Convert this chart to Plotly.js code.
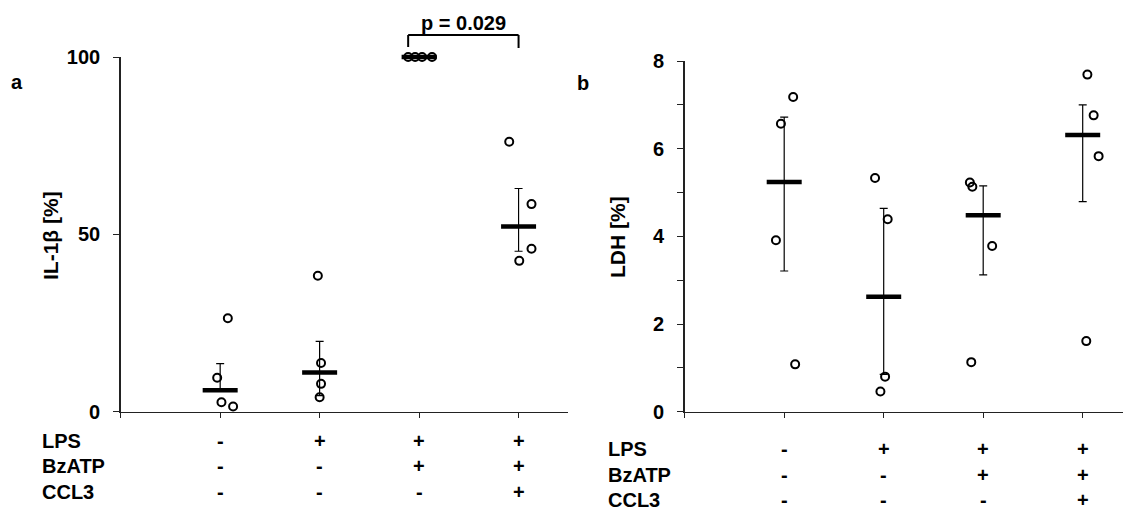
<!DOCTYPE html>
<html>
<head>
<meta charset="utf-8">
<script src="https://cdn.plot.ly/plotly-3.0.1.min.js"></script>
<style>
  html, body { margin: 0; padding: 0; background: #fff; }
  #chart { width: 1123px; height: 512px; }
</style>
</head>
<body>
<div id="chart"></div>
<script>
// Treatment groups (x positions on the category axis) and the condition table
const groups = [1, 2, 3, 4];
const rowLabels = ['LPS', 'BzATP', 'CCL3'];
const rowLPS = ['-', '+', '+', '+'];
const rowBzATP = ['-', '-', '+', '+'];
const rowCCL3 = ['-', '-', '-', '+'];

// Panel a: IL-1β release [%], four donors per group
const il1bValues = [
  [26.3, 9.5, 2.6, 1.4],
  [38.3, 13.7, 7.8, 4.0],
  [100, 100, 100, 100],
  [76.1, 58.5, 45.9, 42.5]
];
const il1bJitter = [
  [0.077, -0.03, 0.013, 0.13],
  [-0.018, 0.014, 0.014, 0.0],
  [-0.11, -0.04, 0.03, 0.13],
  [-0.094, 0.13, 0.13, 0.007]
];
const il1bMedian = [6.0, 11.0, 100, 52.2];
const il1bUpper = [13.5, 19.8, 100, 62.9];
const il1bLower = [6.4, 4.5, 100, 45.2];

// Panel b: LDH release [%]
const ldhValues = [
  [7.18, 6.57, 3.91, 1.08],
  [5.33, 4.39, 0.80, 0.46],
  [5.23, 5.13, 3.78, 1.13],
  [7.69, 6.76, 5.83, 1.61]
];
const ldhJitter = [
  [0.09, -0.033, -0.083, 0.11],
  [-0.087, 0.04, 0.014, -0.033],
  [-0.134, -0.109, 0.09, -0.12],
  [0.047, 0.11, 0.16, 0.036]
];
const ldhMedian = [5.24, 2.62, 4.48, 6.31];
const ldhUpper = [6.72, 4.64, 5.15, 7.0];
const ldhLower = [3.21, 0.85, 3.12, 4.79];

// Significance bracket between groups 3 and 4 in panel a
const pLabel = 'p = 0.029';
const bracketFrom = 2.89;
const bracketTo = 4;

const FONT = 'Liberation Sans, Arial, Helvetica, sans-serif';
const INK = '#000';

function panelTraces(values, jitter, median, upper, lower, xa, ya) {
  const px = [], py = [];
  values.forEach((vals, g) => vals.forEach((v, i) => {
    px.push(groups[g] + jitter[g][i]);
    py.push(v);
  }));
  const medianTrace = {
    type: 'scatter', mode: 'markers', xaxis: xa, yaxis: ya,
    x: groups, y: median, hoverinfo: 'skip', cliponaxis: false,
    marker: { symbol: 'line-ew', size: 25, color: INK, line: { color: INK, width: 4.5 } },
    error_y: {
      type: 'data', symmetric: false,
      array: upper.map((u, i) => u - median[i]),
      arrayminus: lower.map((l, i) => median[i] - l),
      color: INK, thickness: 1.2, width: 4
    }
  };
  const pointTrace = {
    type: 'scatter', mode: 'markers', xaxis: xa, yaxis: ya,
    x: px, y: py, hoverinfo: 'skip', cliponaxis: false,
    marker: { symbol: 'circle-open', size: 8, color: INK, line: { color: INK, width: 2 } }
  };
  return [medianTrace, pointTrace];
}

const traces = [
  ...panelTraces(il1bValues, il1bJitter, il1bMedian, il1bUpper, il1bLower, 'x', 'y'),
  ...panelTraces(ldhValues, ldhJitter, ldhMedian, ldhUpper, ldhLower, 'x2', 'y2')
];

const tickFont = { family: FONT, size: 20, color: INK, weight: 'bold' };
const baseX = {
  range: [0, 4.5], tickvals: [0, 1, 2, 3, 4], showticklabels: false,
  ticks: 'outside', ticklen: 5, tickwidth: 1, tickcolor: '#222',
  showline: true, linecolor: '#222', linewidth: 1.5,
  showgrid: false, zeroline: false, fixedrange: true
};
const baseY = {
  ticks: 'outside', ticklen: 6, tickwidth: 1, tickcolor: '#222',
  showline: true, linecolor: '#222', linewidth: 1.5,
  showgrid: false, zeroline: false, fixedrange: true,
  tickfont: tickFont, ticklabelstandoff: 9
};

const annotations = [];
function label(text, x, y, xref, yref, extra) {
  annotations.push(Object.assign({
    text: text, x: x, y: y, xref: xref, yref: yref, showarrow: false,
    xanchor: 'center', yanchor: 'middle',
    font: { family: FONT, size: 20, color: INK, weight: 'bold' }
  }, extra || {}));
}

// panel letters and axis titles
label('a', 0.015, 1 - 82 / 512, 'paper', 'paper');
label('b', 0.519, 1 - 83 / 512, 'paper', 'paper');
label('IL-1β [%]', 50 / 1123, 1 - 236 / 512, 'paper', 'paper', { textangle: -90, font: { family: FONT, size: 21, color: INK, weight: 'bold' } });
label('LDH [%]', 617 / 1123, 1 - 237 / 512, 'paper', 'paper', { textangle: -90, font: { family: FONT, size: 21, color: INK, weight: 'bold' } });

// condition tables under each panel
const rows = [rowLPS, rowBzATP, rowCCL3];
function table(xref, labelX, rowY) {
  rows.forEach((row, r) => {
    label(rowLabels[r], labelX, 1 - rowY[r] / 512, 'paper', 'paper', { xanchor: 'left' });
    row.forEach((s, g) => label(s, groups[g], 1 - rowY[r] / 512, xref, 'paper'));
  });
}
table('x', 40 / 1123, [441, 466, 492]);
table('x2', 606 / 1123, [449, 475, 500]);

// p-value above the bracket
label(pLabel, (bracketFrom + bracketTo) / 2, 1 - 23 / 512, 'x', 'paper');

const bracketLine = { color: INK, width: 2 };
const shapes = [
  { type: 'line', xref: 'x', yref: 'paper', x0: bracketFrom, x1: bracketTo, y0: 1 - 35 / 512, y1: 1 - 35 / 512, line: bracketLine },
  { type: 'line', xref: 'x', yref: 'paper', x0: bracketFrom, x1: bracketFrom, y0: 1 - 35 / 512, y1: 1 - 47 / 512, line: bracketLine },
  { type: 'line', xref: 'x', yref: 'paper', x0: bracketTo, x1: bracketTo, y0: 1 - 35 / 512, y1: 1 - 48 / 512, line: bracketLine }
];

const layout = {
  width: 1123, height: 512,
  margin: { l: 0, r: 0, t: 0, b: 0 },
  paper_bgcolor: '#fff', plot_bgcolor: 'rgba(0,0,0,0)',
  showlegend: false,
  xaxis: Object.assign({}, baseX, { domain: [120.7 / 1123, 568.3 / 1123], anchor: 'y' }),
  yaxis: Object.assign({}, baseY, {
    domain: [(512 - 411.5) / 512, (512 - 57) / 512], anchor: 'x',
    range: [0, 100], tickvals: [0, 50, 100]
  }),
  xaxis2: Object.assign({}, baseX, { domain: [684.7 / 1123, 1], range: [0, (1123 - 684.7) / 99.5], anchor: 'y2' }),
  yaxis2: Object.assign({}, baseY, {
    domain: [(512 - 411.7) / 512, (512 - 61) / 512], anchor: 'x2',
    range: [0, 8], tickvals: [0, 1, 2, 3, 4, 5, 6, 7, 8],
    ticktext: ['0', '', '2', '', '4', '', '6', '', '8']
  }),
  annotations: annotations,
  shapes: shapes
};

Plotly.newPlot('chart', traces, layout, { staticPlot: true, displayModeBar: false });
</script>
</body>
</html>
